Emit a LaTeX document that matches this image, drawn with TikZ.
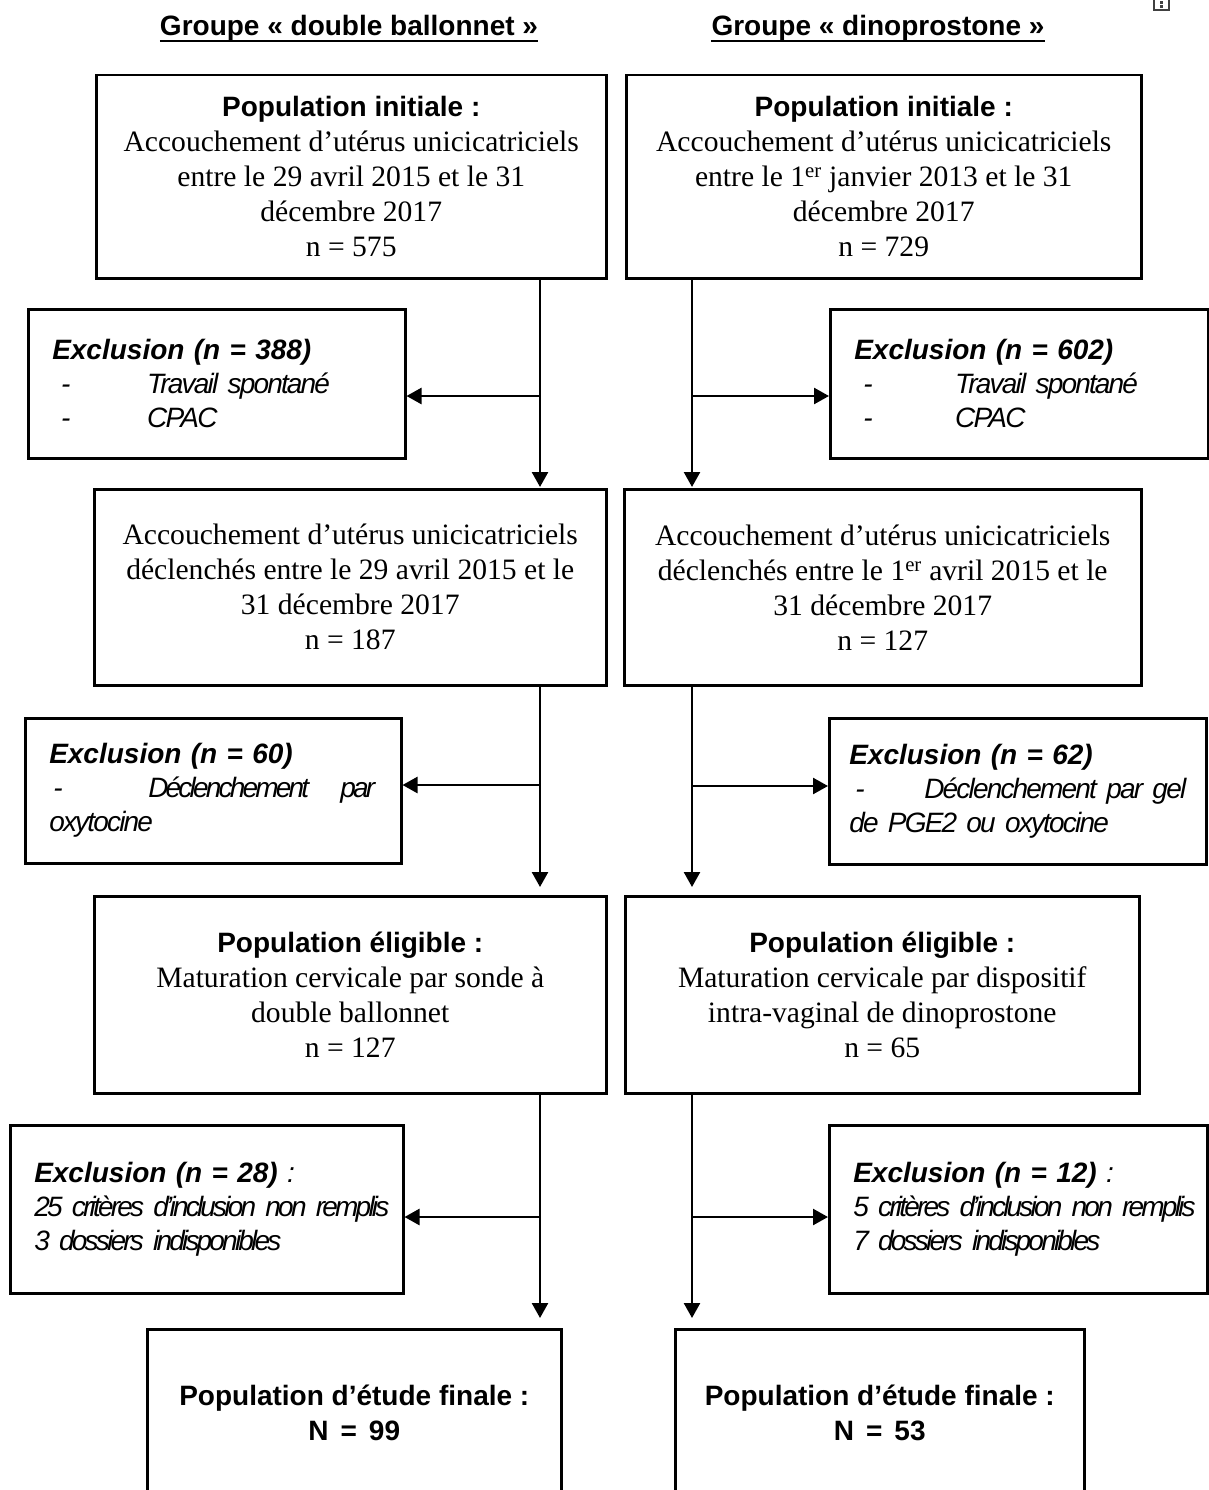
\documentclass[tikz,border=0pt]{standalone}
\usepackage{fontspec}
\setmainfont{Liberation Serif}
\setsansfont{Liberation Sans}
\newfontfamily\condsans{Liberation Sans}[LetterSpace=-6.5,WordSpace=0.5]
\newfontfamily\tightsans{Liberation Sans}[LetterSpace=-10,WordSpace=0.4]
\usetikzlibrary{arrows.meta,calc}
\newcommand\boxtitle[1]{{\fontsize{28}{35}\selectfont\sffamily\bfseries #1}}
\newcommand\extitle[1]{{\sffamily\bfseries\itshape #1}}
\newcommand\exline[1]{{\condsans\itshape\mbox{#1}}}
\newcommand\exlinet[1]{{\tightsans\itshape\mbox{#1}}}
\begin{document}
\begin{tikzpicture}[x=1pt,y=-1pt,
  box/.style={draw, line width=2.5pt, anchor=north west, inner sep=0pt, align=center,
    font=\fontsize{29.6}{35}\selectfont},
  exbox/.style={draw, line width=2.5pt, anchor=north west, inner xsep=24pt, inner ysep=0pt,
    align=left, font=\fontsize{28}{34}\selectfont\sffamily},
  head/.style={anchor=base, inner xsep=0pt, font=\fontsize{28}{34}\selectfont\sffamily\bfseries},
  link/.style={line width=2.5pt},
  arr/.style={line width=2.5pt, -{Triangle[length=15pt,width=16pt]}}]
\useasboundingbox (0,0) rectangle (1209,1490);
\clip (0,0) rectangle (1209,1490);

% headers
\node[head] (H1) at (349,36) {Groupe « double ballonnet »};
\node[head] (H2) at (878,36) {Groupe « dinoprostone »};
\draw[line width=2pt] ([yshift=-5pt]H1.base west) -- ([yshift=-5pt]H1.base east);
\draw[line width=2pt] ([yshift=-5pt]H2.base west) -- ([yshift=-5pt]H2.base east);

% small anchor icon
\draw[line width=1.2pt, black!75] (1154,-2) rectangle (1169,10);
\fill[black!75] (1160,1.5) rectangle (1163,4);
\fill[black!75] (1160,5.5) rectangle (1163,8);

% main boxes, left column
\node[box, minimum width=510pt, minimum height=203pt] (A1) at (95,74)
  {\boxtitle{Population initiale :}\\
   Accouchement d’utérus unicicatriciels\\
   entre le 29 avril 2015 et le 31\\
   décembre 2017\\
   n = 575};
\node[box, minimum width=512pt, minimum height=196pt] (A2) at (93,488)
  {Accouchement d’utérus unicicatriciels\\
   déclenchés entre le 29 avril 2015 et le\\
   31 décembre 2017\\
   n = 187};
\node[box, minimum width=512pt, minimum height=197pt] (A3) at (93,895)
  {\boxtitle{Population éligible :}\\
   Maturation cervicale par sonde à\\
   double ballonnet\\
   n = 127};
\node[box, minimum width=414pt, minimum height=168pt] (A4) at (146,1328)
  {\boxtitle{Population d’étude finale :}\\
   \boxtitle{\spaceskip=12pt N = 99}};

% main boxes, right column
\node[box, minimum width=515pt, minimum height=203pt] (B1) at (625,74)
  {\boxtitle{Population initiale :}\\
   Accouchement d’utérus unicicatriciels\\
   entre le 1\textsuperscript{er} janvier 2013 et le 31\\
   décembre 2017\\
   n = 729};
\node[box, minimum width=517pt, minimum height=196pt] (B2) at (623,488)
  {Accouchement d’utérus unicicatriciels\\
   déclenchés entre le 1\textsuperscript{er} avril 2015 et le\\
   31 décembre 2017\\
   n = 127};
\node[box, minimum width=514pt, minimum height=197pt] (B3) at (624,895)
  {\boxtitle{Population éligible :}\\
   Maturation cervicale par dispositif\\
   intra-vaginal de dinoprostone\\
   n = 65};
\node[box, minimum width=409pt, minimum height=168pt] (B4) at (674,1328)
  {\boxtitle{Population d’étude finale :}\\
   \boxtitle{\spaceskip=12pt N = 53}};

% exclusion boxes, left
\node[exbox, minimum width=377pt, minimum height=149pt, text width=329pt] (EA1) at (27,308)
  {\extitle{Exclusion (n = 388)}\\
   \exline{\hspace*{9pt}\makebox[86pt][l]{-}Travail spontané}\\
   \exline{\hspace*{9pt}\makebox[86pt][l]{-}CPAC}};
\node[exbox, minimum width=376pt, minimum height=145pt, text width=328pt] (EA2) at (24,717)
  {\extitle{Exclusion (n = 60)}\\
   \exlinet{\hbox to 326pt{\hspace*{4pt}\makebox[95pt][l]{-}Déclenchement\hfill par}}\\
   \exline{oxytocine}};
\node[exbox, minimum width=393pt, minimum height=168pt, text width=345pt] (EA3) at (9,1124)
  {\extitle{Exclusion (n = 28)}{\itshape\ :}\\
   \exlinet{25 critères d’inclusion non remplis}\\
   \exlinet{3 dossiers indisponibles}};

% exclusion boxes, right
\node[exbox, minimum width=378pt, minimum height=149pt, text width=330pt] (EB1) at (829,308)
  {\extitle{Exclusion (n = 602)}\\
   \exline{\hspace*{9pt}\makebox[92pt][l]{-}Travail spontané}\\
   \exline{\hspace*{9pt}\makebox[92pt][l]{-}CPAC}};
\node[exbox, inner xsep=20pt, minimum width=377pt, minimum height=146pt, text width=337pt] (EB2) at (828,717)
  {\extitle{Exclusion (n = 62)}\\
   \exline{\hbox to 337pt{\hspace*{6pt}-\hfill Déclenchement par gel}}\\
   \exline{de PGE2 ou oxytocine}};
\node[exbox, minimum width=378pt, minimum height=168pt, text width=330pt] (EB3) at (828,1124)
  {\extitle{Exclusion (n = 12)}{\itshape\ :}\\
   \exlinet{5 critères d’inclusion non remplis}\\
   \exlinet{7 dossiers indisponibles}};

% trunk lines
\coordinate (L) at (540,0);
\coordinate (R) at (692,0);
\coordinate (inA2) at ($(A2.north -| L)+(0,-1)$);
\coordinate (inA3) at ($(A3.north -| L)+(0,-8)$);
\coordinate (inA4) at ($(A4.north -| L)+(0,-10)$);
\coordinate (inB2) at ($(B2.north -| R)+(0,-1)$);
\coordinate (inB3) at ($(B3.north -| R)+(0,-8)$);
\coordinate (inB4) at ($(B4.north -| R)+(0,-10)$);
\coordinate (jA1) at (540,396);
\coordinate (jA2) at (540,785);
\coordinate (jA3) at (540,1217);
\coordinate (jB1) at (692,396);
\coordinate (jB2) at (692,786);
\coordinate (jB3) at (692,1217);

\draw[arr] (A1.south -| L) -- (inA2);
\draw[arr] (A2.south -| L) -- (inA3);
\draw[arr] (A3.south -| L) -- (inA4);
\draw[arr] (B1.south -| R) -- (inB2);
\draw[arr] (B2.south -| R) -- (inB3);
\draw[arr] (B3.south -| R) -- (inB4);

\draw[arr] (jA1) -- (jA1 -| EA1.east);
\draw[arr] (jA2) -- (jA2 -| EA2.east);
\draw[arr] (jA3) -- (jA3 -| EA3.east);
\draw[arr] (jB1) -- (jB1 -| EB1.west);
\draw[arr] (jB2) -- (jB2 -| EB2.west);
\draw[arr] (jB3) -- (jB3 -| EB3.west);
\end{tikzpicture}
\end{document}
